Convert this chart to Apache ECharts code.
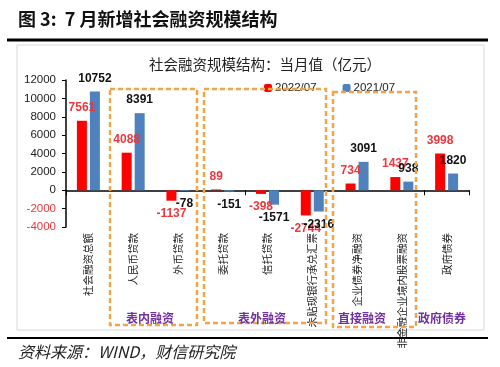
<!DOCTYPE html>
<html><head><meta charset="utf-8">
<script src="https://cdn.jsdelivr.net/npm/echarts@6/dist/echarts.min.js"></script>
<style>html,body{margin:0;padding:0;background:#fff}#c{width:500px;height:367px}</style>
</head><body><div id="c"></div>
<script>
const categories = ['社会融资总额','人民币贷款','外币贷款','委托贷款','信托贷款','未贴现银行承兑汇票','企业债券净融资','非金融企业境内股票融资','政府债券'];
const values2022 = [7561, 4088, -1137, 89, -398, -2744, 734, 1437, 3998];
const values2021 = [10752, 8391, -78, -151, -1571, -2316, 3091, 938, 1820];
const yTicks = [-4000, -2000, 0, 2000, 4000, 6000, 8000, 10000, 12000];
const seriesNames = ['2022/07', '2021/07'];
const groupLabels = ['表内融资', '表外融资', '直接融资', '政府债券'];

const chart = echarts.init(document.getElementById('c'), null, {renderer: 'canvas'});
function items(arr) {
  return arr.map(v => ({value: v, label: {position: v < 0 ? 'bottom' : 'top'}}));
}
const orange = '#f0a548';
const purple = '#7030a0';
function box(x, y, w, h) {
  return {type: 'rect', shape: {x: x, y: y, width: w, height: h},
    style: {fill: 'none', stroke: orange, lineWidth: 2.5, lineDash: [5, 3]}, z: 10};
}
function gtext(t, x, y) {
  return {type: 'text', x: x, y: y, style: {text: t, fill: purple, font: 'bold 12px "Noto Sans CJK SC"', textAlign: 'center', textVerticalAlign: 'middle'}, z: 11};
}
chart.setOption({
  animation: false,
  title: {text: '社会融资规模结构：当月值（亿元）', left: 260, textAlign: 'center', top: 52,
    textStyle: {fontSize: 14.5, fontWeight: 'normal', color: '#222', fontFamily: 'Noto Sans CJK SC'}},
  legend: {data: seriesNames, left: 259, top: 77, itemWidth: 8, itemHeight: 8, itemGap: 26,
    textStyle: {fontSize: 11.5, color: '#222', fontFamily: 'Liberation Sans', padding: [0,0,0,-2]}},
  grid: {left: 66, right: 31, top: 80, bottom: 140},
  xAxis: [
    {type: 'category', data: categories, axisLine: {onZero: true, lineStyle: {color: '#000', width: 1.5}},
     axisTick: {show: true, length: 5, lineStyle: {color: '#000'}}, axisLabel: {show: false}},
    {type: 'category', data: categories, position: 'bottom', axisLine: {show: false, onZero: false},
     axisTick: {show: false}, axisLabel: {interval: 0, rotate: 90, margin: 6, fontSize: 10.5, color: '#222', fontFamily: 'Noto Sans CJK SC'}}
  ],
  yAxis: {type: 'value', min: yTicks[0], max: yTicks[yTicks.length - 1], interval: 2000,
    splitLine: {show: false},
    axisLine: {show: true, lineStyle: {color: '#000', width: 1.5}},
    axisTick: {show: true, length: 4, lineStyle: {color: '#000'}},
    axisLabel: {fontSize: 11.5, margin: 10, fontFamily: 'Liberation Sans', formatter: v => String(v),
      color: v => (Number(v) < 0 ? '#e8393e' : '#222')}},
  series: [
    {name: seriesNames[0], type: 'bar', data: items(values2022), barWidth: 10, barGap: '30%',
     itemStyle: {color: '#ff0000'},
     label: {show: true, distance: 7, color: '#e8393e', fontSize: 12, fontWeight: 'bold', fontFamily: 'Liberation Sans'}},
    {name: seriesNames[1], type: 'bar', data: items(values2021), barWidth: 10,
     itemStyle: {color: '#4f81bd'},
     label: {show: true, distance: 7, color: '#111', fontSize: 12, fontWeight: 'bold', fontFamily: 'Liberation Sans'}}
  ],
  graphic: [
    {type: 'text', left: 18, top: 10, style: {text: '图 3:  7 月新增社会融资规模结构', fill: '#111', font: 'bold 18px "Noto Sans CJK SC"'}},
    {type: 'rect', shape: {x: 7, y: 38.5, width: 481, height: 3}, style: {fill: '#000'}},
    {type: 'rect', shape: {x: 17, y: 45, width: 467, height: 285}, style: {fill: 'none', stroke: '#d8d8d8', lineWidth: 1}, z: -1},
    {type: 'rect', shape: {x: 7, y: 337, width: 481, height: 2}, style: {fill: '#000'}},
    {type: 'text', left: 18, top: 344, style: {text: '资料来源：WIND，财信研究院', fill: '#222', font: 'italic 16px "Noto Sans CJK SC"'}},
    box(110, 89, 87, 236),
    box(204, 89, 122, 234),
    box(333, 92, 83, 235),
    gtext(groupLabels[0], 150, 318),
    gtext(groupLabels[1], 262, 318),
    gtext(groupLabels[2], 362, 318),
    gtext(groupLabels[3], 442, 318)
  ]
});
</script></body></html>
